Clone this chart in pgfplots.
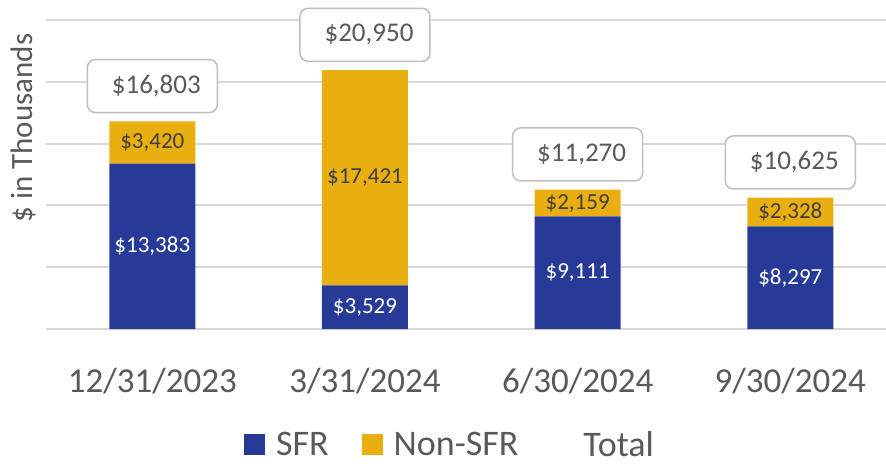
\documentclass[border=0pt]{standalone}
\usepackage{fontspec}
\setmainfont{Carlito}
\usepackage{pgfplots}
\usepackage{pgfplotstable}
\pgfplotsset{compat=1.18}
\definecolor{sfr}{HTML}{283A97}
\definecolor{nonsfr}{HTML}{E9AF10}
\definecolor{txt}{HTML}{595959}
\definecolor{dtxt}{HTML}{404040}
\definecolor{grd}{HTML}{D9D9D9}
\definecolor{boxc}{HTML}{BFBFBF}
\pgfplotstableread{
x sfr non total
0 13383 3420 16803
1 3529 17421 20950
2 9111 2159 11270
3 8297 2328 10625
}\data
\pgfplotsset{
  /pgf/number format/assume math mode=true,
  common/.style={width=840pt,height=309pt,scale only axis,
    xmin=-0.5,xmax=3.45,ymin=0,ymax=25000,clip=false,scaled y ticks=false}
}
\begin{document}
\begin{tikzpicture}
\useasboundingbox (-46pt,-138pt) rectangle (840pt,329pt);
\begin{axis}[common, ybar stacked, bar width=86pt,
  axis line style={draw=none},
  ytick={0,5000,...,25000}, yticklabels={},
  ymajorgrids, grid style={grd, line width=2pt},
  major tick length=0pt,
  xtick={0,1,2,3},
  xticklabels={12/31/2023,3/31/2024,6/30/2024,9/30/2024},
  xticklabel style={font=\fontsize{35}{42}\selectfont, text=txt, anchor=base, yshift=-63pt},
  legend columns=3,
  legend style={at={(rel axis cs:0.232,-0.374)}, anchor=west, draw=none, fill=none,
    nodes={inner sep=0pt}, font=\fontsize{36}{43}\selectfont, text=txt,
    /tikz/every odd column/.append style={column sep=11pt},
    /tikz/every even column/.append style={column sep=33pt}},
]
\addplot[fill=sfr, draw=none,
  legend image code/.code={\fill[sfr] (0pt,-10.5pt) rectangle (21pt,10.5pt);}]
  table[x=x,y=sfr] {\data};
\addlegendentry{SFR}
\addplot[fill=nonsfr, draw=none,
  legend image code/.code={\fill[nonsfr] (0pt,-10.5pt) rectangle (21pt,10.5pt);}]
  table[x=x,y=non] {\data};
\addlegendentry{Non-SFR}
\addlegendimage{draw=none, fill=none,
  legend image code/.code={\path (0pt,-10.5pt) rectangle (21pt,10.5pt);}}
\addlegendentry{Total}
\node[rotate=90, font=\fontsize{31}{37}\selectfont, text=txt]
  at ([xshift=-23pt]rel axis cs:0,0.65) {\$ in Thousands};
\end{axis}
\begin{axis}[common, hide axis]
\addplot[draw=none, mark=none, point meta=explicit,
  nodes near coords={\$\pgfmathprintnumber[fixed,precision=0,1000 sep={,}]{\pgfplotspointmeta}},
  every node near coord/.append style={anchor=center, text=white, font=\fontsize{23}{28}\selectfont}]
  table[x=x, y expr=\thisrow{sfr}/2, meta=sfr] {\data};
\addplot[draw=none, mark=none, point meta=explicit,
  nodes near coords={\$\pgfmathprintnumber[fixed,precision=0,1000 sep={,}]{\pgfplotspointmeta}},
  every node near coord/.append style={anchor=center, text=dtxt, font=\fontsize{23}{28}\selectfont}]
  table[x=x, y expr=\thisrow{sfr}+\thisrow{non}/2, meta=non] {\data};
\addplot[draw=none, mark=none, point meta=explicit,
  nodes near coords={\hspace*{8pt}\$\pgfmathprintnumber[fixed,precision=0,1000 sep={,}]{\pgfplotspointmeta}},
  every node near coord/.append style={anchor=south, yshift=8pt, draw=boxc, line width=1.5pt,
    rounded corners=8pt, fill=white, minimum width=130pt, minimum height=53pt,
    text=txt, font=\fontsize{27}{32}\selectfont}]
  table[x=x, y=total, meta=total] {\data};
\end{axis}
\end{tikzpicture}
\end{document}
